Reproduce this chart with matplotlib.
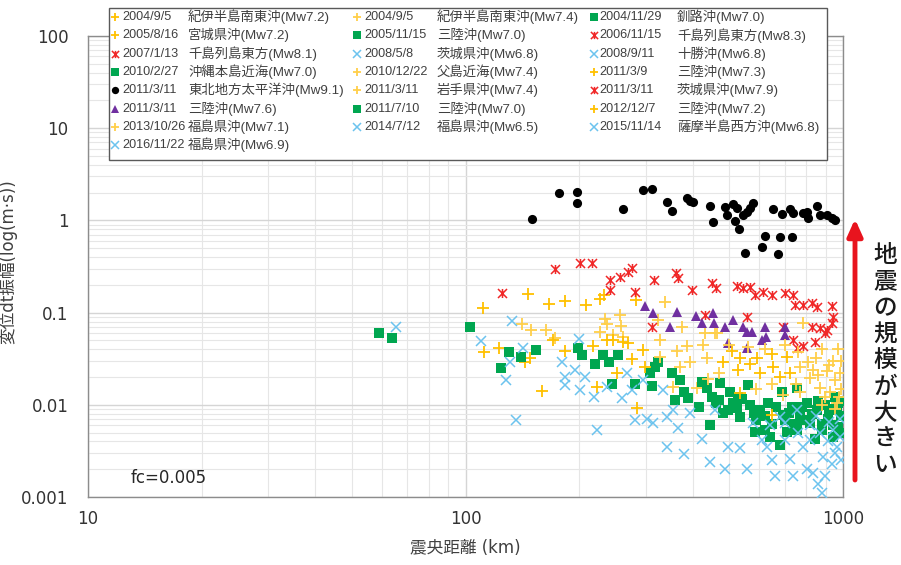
import matplotlib
matplotlib.use('Agg')
import matplotlib.pyplot as plt
from matplotlib.path import Path
from matplotlib.lines import Line2D
from matplotlib.patches import Rectangle
from matplotlib.ticker import LogLocator, FixedLocator, NullFormatter

plt.rcParams['font.family'] = ['DejaVu Sans', 'Noto Sans CJK JP']

# ---------------- data (epicentral distance km, amplitude) ----------------
kii72_x = [111, 146, 166, 183, 208, 227, 233, 283]
kii72_y = [0.111, 0.159, 0.124, 0.134, 0.121, 0.139, 0.155, 0.137]
kii74_x = [141, 149, 163, 173, 227, 237, 246, 261, 257, 234, 258]
kii74_y = [0.075, 0.064, 0.065, 0.053, 0.062, 0.075, 0.057, 0.055, 0.094, 0.085, 0.072]
kushiro_x = [681, 688, 695, 709, 731, 754, 769, 754, 802, 818, 843, 852, 878, 896, 914, 943, 962, 972, 952,
             665, 700, 720, 740, 780, 790, 830, 860, 880, 920, 940, 970, 985, 990, 985]
kushiro_y = [0.0037, 0.0139, 0.0078, 0.0051, 0.0095, 0.0151, 0.0078, 0.0053, 0.0104, 0.0063, 0.0043, 0.0088,
             0.0053, 0.0100, 0.0071, 0.0045, 0.0088, 0.0058, 0.0123,
             0.0095, 0.0068, 0.0082, 0.0062, 0.0095, 0.0068, 0.0080, 0.0110, 0.0062, 0.0090, 0.0060, 0.0105,
             0.0075, 0.0050, 0.0110]
miyagi_x = [112, 123, 144, 148, 159, 171, 183, 218, 223]
miyagi_y = [0.037, 0.041, 0.029, 0.032, 0.014, 0.051, 0.038, 0.043, 0.0157]
sanriku05_x = [124, 130, 140, 154, 199, 203, 220, 232, 240, 245, 254, 281, 324, 308, 318, 311]
sanriku05_y = [0.025, 0.037, 0.033, 0.039, 0.041, 0.035, 0.028, 0.035, 0.029, 0.017, 0.035, 0.017, 0.029,
               0.022, 0.026, 0.016]
kuril83_x = [523, 545, 567, 585, 615, 647, 702, 739, 746, 785, 826, 852, 933, 943]
kuril83_y = [0.194, 0.184, 0.191, 0.155, 0.169, 0.155, 0.162, 0.155, 0.121, 0.121, 0.126, 0.116, 0.118, 0.090]
kuril81_x = [695, 826, 869, 905, 933, 739, 785, 843, 896, 754]
kuril81_y = [0.070, 0.070, 0.068, 0.065, 0.077, 0.0505, 0.043, 0.048, 0.060, 0.041]
ibaraki08_x = [110, 133, 128, 131, 142, 136, 180, 183, 183, 195, 201, 200]
ibaraki08_y = [0.049, 0.082, 0.0186, 0.029, 0.041, 0.0068, 0.029, 0.020, 0.0164, 0.024, 0.0145, 0.052]
tokachi_x = [702, 739, 724, 785, 802, 834, 860, 887, 896, 933, 878]
tokachi_y = [0.0042, 0.0017, 0.0026, 0.0035, 0.0020, 0.0018, 0.0014, 0.0027, 0.0017, 0.0023, 0.0011]
okinawa_x = [59, 64, 103]
okinawa_y = [0.060, 0.053, 0.070]
chichijima_x = [338, 324, 374, 431, 463, 785, 458]
chichijima_y = [0.131, 0.083, 0.070, 0.060, 0.060, 0.077, 0.0596]
sanriku0309_x = [237, 246, 262, 276, 284, 252, 270, 296, 299]
sanriku0309_y = [0.0505, 0.0505, 0.048, 0.031, 0.0092, 0.022, 0.0465, 0.039, 0.026]
tohoku_x = [150, 177, 198, 198, 262, 295, 311, 341, 352, 386, 393, 401, 444, 453, 487, 494, 512, 523, 518,
            531, 545, 556, 567, 579, 550, 609, 622, 681, 674, 734, 654, 688, 724, 739, 785, 802, 809, 852,
            869, 905, 933, 952]
tohoku_y = [1.04, 1.97, 2.03, 1.56, 1.32, 2.14, 2.18, 1.57, 1.27, 1.74, 1.64, 1.60, 1.44, 0.95, 1.41, 1.14,
            1.51, 1.35, 0.99, 0.80, 1.14, 1.24, 1.35, 1.53, 0.44, 0.51, 0.67, 0.66, 0.43, 0.66, 1.32, 1.17,
            1.32, 1.21, 1.20, 1.24, 1.05, 1.43, 1.14, 1.14, 1.05, 1.01]
iwate_x = [328, 328, 363, 386, 370, 393, 427, 435, 410, 355]
iwate_y = [0.0505, 0.033, 0.038, 0.043, 0.026, 0.029, 0.0445, 0.032, 0.0151, 0.0157]
ibaraki11_x = [125, 173, 201, 216, 241, 241, 257, 270, 276, 281, 316, 361, 366, 398, 449, 461, 311, 431, 556]
ibaraki11_y = [0.162, 0.295, 0.342, 0.342, 0.226, 0.176, 0.242, 0.278, 0.302, 0.169, 0.226, 0.267, 0.236,
               0.176, 0.208, 0.184, 0.070, 0.094, 0.090]
sanriku76_x = [299, 314, 363, 348, 408, 422, 453, 455, 487, 512, 545, 556, 573, 622, 702, 497, 556, 609, 625, 702]
sanriku76_y = [0.118, 0.100, 0.102, 0.070, 0.092, 0.077, 0.098, 0.078, 0.070, 0.083, 0.070, 0.062, 0.062,
               0.070, 0.070, 0.047, 0.041, 0.0505, 0.055, 0.057]
sanriku0710_x = [359, 352, 370, 378, 389, 422, 435, 444, 449, 472, 468, 497, 502, 528, 534, 523, 561, 567, 585,
                 603, 622, 641, 634, 415, 460, 480, 510, 540, 580, 590, 620, 650]
sanriku0710_y = [0.0113, 0.022, 0.0186, 0.0139, 0.0118, 0.0178, 0.0151, 0.0060, 0.0123, 0.0171, 0.0113, 0.0088,
                 0.0139, 0.0123, 0.0074, 0.0092, 0.0164, 0.0100, 0.0051, 0.0088, 0.0053, 0.0045, 0.0104,
                 0.0095, 0.0105, 0.0082, 0.0105, 0.0115, 0.0082, 0.0068, 0.0075, 0.0062]
sanriku12_x = [482, 507, 528, 534, 567, 591, 603, 647, 654, 681, 709, 724, 534, 647]
sanriku12_y = [0.029, 0.038, 0.024, 0.032, 0.028, 0.032, 0.022, 0.036, 0.026, 0.020, 0.033, 0.022, 0.0133, 0.0078]
fukushima13_x = [769, 809, 818, 834, 869, 905, 924, 952, 982, 962, 896, 769, 695, 500, 560, 620, 700, 760, 850,
                 880, 940, 990, 970, 920, 860, 750, 650, 590, 470, 440, 990, 975, 950, 880]
fukushima13_y = [0.026, 0.029, 0.0194, 0.024, 0.0151, 0.023, 0.0139, 0.0186, 0.022, 0.0104, 0.01225, 0.0139,
                 0.0128, 0.045, 0.042, 0.040, 0.045, 0.037, 0.032, 0.040, 0.030, 0.030, 0.040, 0.027, 0.021,
                 0.017, 0.017, 0.015, 0.022, 0.019, 0.015, 0.012, 0.009, 0.010]
fukushima14_x = [207, 219, 223, 237, 259, 267, 276, 281, 296, 302, 314, 334]
fukushima14_y = [0.020, 0.0123, 0.0053, 0.0157, 0.0118, 0.022, 0.0145, 0.0068, 0.0186, 0.0071, 0.0063, 0.0145]
satsuma_x = [65.6, 341, 341, 355, 366, 378, 393, 422, 444, 458, 487, 497]
satsuma_y = [0.070, 0.0074, 0.0035, 0.0088, 0.0056, 0.0029, 0.0081, 0.0043, 0.0024, 0.0088, 0.0020, 0.0035]
fukushima16_x = [534, 556, 579, 609, 628, 647, 661, 943, 962, 754, 681, 818, 640, 700, 760, 820, 870, 910, 950,
                 980, 990, 920, 980, 850]
fukushima16_y = [0.0034, 0.0020, 0.0063, 0.0042, 0.0035, 0.0025, 0.0017, 0.0053, 0.0035, 0.0088, 0.0074,
                 0.0042, 0.0060, 0.0063, 0.0050, 0.0060, 0.0050, 0.0040, 0.0030, 0.0045, 0.0025, 0.0065,
                 0.0070, 0.0075]

dates = ['2004/9/5', '2004/9/5', '2004/11/29', '2005/8/16', '2005/11/15', '2006/11/15', '2007/1/13',
         '2008/5/8', '2008/9/11', '2010/2/27', '2010/12/22', '2011/3/9', '2011/3/11', '2011/3/11',
         '2011/3/11', '2011/3/11', '2011/7/10', '2012/12/7', '2013/10/26', '2014/7/12', '2015/11/14',
         '2016/11/22']
names = ['紀伊半島南東沖(Mw7.2)', '紀伊半島南東沖(Mw7.4)', '釧路沖(Mw7.0)', '宮城県沖(Mw7.2)', '三陸沖(Mw7.0)',
         '千島列島東方(Mw8.3)', '千島列島東方(Mw8.1)', '茨城県沖(Mw6.8)', '十勝沖(Mw6.8)', '沖縄本島近海(Mw7.0)',
         '父島近海(Mw7.4)', '三陸沖(Mw7.3)', '東北地方太平洋沖(Mw9.1)', '岩手県沖(Mw7.4)', '茨城県沖(Mw7.9)',
         '三陸沖(Mw7.6)', '三陸沖(Mw7.0)', '三陸沖(Mw7.2)', '福島県沖(Mw7.1)', '福島県沖(Mw6.5)',
         '薩摩半島西方沖(Mw6.8)', '福島県沖(Mw6.9)']
y_ticks = [0.001, 0.01, 0.1, 1, 10, 100]
y_tick_labels = ['0.001', '0.01', '0.1', '1', '10', '100']
x_ticks = [10, 100, 1000]
x_tick_labels = ['10', '100', '1000']

xs = [kii72_x, kii74_x, kushiro_x, miyagi_x, sanriku05_x, kuril83_x, kuril81_x, ibaraki08_x, tokachi_x,
      okinawa_x, chichijima_x, sanriku0309_x, tohoku_x, iwate_x, ibaraki11_x, sanriku76_x, sanriku0710_x,
      sanriku12_x, fukushima13_x, fukushima14_x, satsuma_x, fukushima16_x]
ys = [kii72_y, kii74_y, kushiro_y, miyagi_y, sanriku05_y, kuril83_y, kuril81_y, ibaraki08_y, tokachi_y,
      okinawa_y, chichijima_y, sanriku0309_y, tohoku_y, iwate_y, ibaraki11_y, sanriku76_y, sanriku0710_y,
      sanriku12_y, fukushima13_y, fukushima14_y, satsuma_y, fukushima16_y]

# ---------------- styles ----------------
star = Path([(-1, -1), (1, 1), (-1, 1), (1, -1), (0, -1), (0, 1)],
            [Path.MOVETO, Path.LINETO, Path.MOVETO, Path.LINETO, Path.MOVETO, Path.LINETO])
YEL1, YEL2 = '#FFC000', '#FFCF4A'
BLUE = '#6CC3EE'
GREEN = '#00A650'
RED = '#F02828'
PURPLE = '#7030A0'
st_plus1 = dict(marker='+', ms=8, mew=1.3, color=YEL1)
st_plus2 = dict(marker='+', ms=8, mew=1.3, color=YEL2)
st_x = dict(marker='x', ms=7, mew=1.1, color=BLUE)
st_sq = dict(marker='s', ms=6.5, mew=0, color=GREEN)
st_star = dict(marker=star, ms=6.5, mew=1.1, color=RED, mfc='none')
st_circ = dict(marker='o', ms=6.6, mew=0, color='black')
st_tri = dict(marker='^', ms=7.2, mew=0, color=PURPLE)
styles = [st_plus1, st_plus2, st_sq, st_plus1, st_sq, st_star, st_star, st_x, st_x, st_sq, st_plus2, st_plus1,
          st_circ, st_plus2, st_star, st_tri, st_sq, st_plus1, st_plus2, st_x, st_x, st_x]

W, H = 901, 565
fig = plt.figure(figsize=(W / 100, H / 100), dpi=100)
ax = fig.add_axes([88 / W, 1 - 497 / H, (843 - 88) / W, (497 - 36) / H])
ax.set_xscale('log')
ax.set_yscale('log')
ax.set_xlim(10, 1000)
ax.set_ylim(0.001, 100)

for x, y, s in zip(xs, ys, styles):
    ax.plot(x, y, linestyle='none', **s, zorder=3)

ax.yaxis.set_major_locator(FixedLocator(y_ticks))
ax.set_yticklabels(y_tick_labels)
ax.xaxis.set_major_locator(FixedLocator(x_ticks))
ax.set_xticklabels(x_tick_labels)
ax.xaxis.set_minor_locator(LogLocator(base=10, subs=range(2, 10)))
ax.yaxis.set_minor_locator(LogLocator(base=10, subs=range(2, 10)))
ax.xaxis.set_minor_formatter(NullFormatter())
ax.yaxis.set_minor_formatter(NullFormatter())
ax.tick_params(which='both', length=0, labelsize=12, labelcolor='#333333')
ax.tick_params(axis='y', pad=14)
ax.tick_params(axis='x', pad=9)
ax.grid(which='major', color='#D5D5D5', lw=1.0, zorder=0)
ax.grid(which='minor', color='#E6E6E6', lw=0.8, zorder=0)
ax.set_axisbelow(True)
for sp in ax.spines.values():
    sp.set_color('#8C8C8C')
    sp.set_linewidth(1.0)

ax.set_xlabel('震央距離 (km)', fontsize=12, color='#404040', labelpad=8)
ax.set_ylabel('変位dt振幅(log(m·s))', fontsize=12, color='#404040')
ax.yaxis.set_label_coords(-0.093, 0.51)
ax.text(0.056, 0.041, 'fc=0.005', transform=ax.transAxes, fontsize=12, color='#262626', va='center')

# ---------------- legend (manual, 3 columns, row-major) ----------------
def fx(px):
    return px / W

def fy(py):
    return 1 - py / H

fig.add_artist(Rectangle((fx(109), fy(160)), (827 - 109) / W, (160 - 8) / H, transform=fig.transFigure,
                         facecolor='white', edgecolor='#595959', lw=1.0, zorder=10))
mk_x = [115, 357, 594]
date_x = [122, 364, 599]
name_x = [188, 437, 677]
leg_font = ['Liberation Sans', 'Noto Sans CJK JP']
for i, (d, n, s) in enumerate(zip(dates, names, styles)):
    r, c = divmod(i, 3)
    yy = 17 + 18.3 * r
    ls = dict(s)
    ls['ms'] = ls['ms'] * 0.8
    fig.add_artist(Line2D([fx(mk_x[c])], [fy(yy)], transform=fig.transFigure, linestyle='none', zorder=11, **ls))
    fig.text(fx(date_x[c]), fy(yy), d, fontsize=9.1, color='#404040', va='center', ha='left', zorder=11,
             family=leg_font)
    fig.text(fx(name_x[c]), fy(yy), n, fontsize=9.6, color='#404040', va='center', ha='left', zorder=11,
             family=leg_font)

# ---------------- red arrow and vertical text ----------------
ax.annotate('', xy=(855, H - 219), xytext=(855, H - 480), xycoords='figure pixels', textcoords='figure pixels',
            arrowprops=dict(arrowstyle='-|>,head_width=0.45,head_length=1.0', color='#E8141E', lw=3.5,
                            shrinkA=0, shrinkB=0), annotation_clip=False)
label = '地震の規模が大きい'
for i, ch in enumerate(label):
    fig.text(fx(885), fy(256 + 26.2 * i), ch, fontsize=17, color='#1A1A1A', ha='center', va='center',
             family=['Noto Sans CJK JP'], fontweight='medium')

fig.savefig('out.png', dpi=100)
